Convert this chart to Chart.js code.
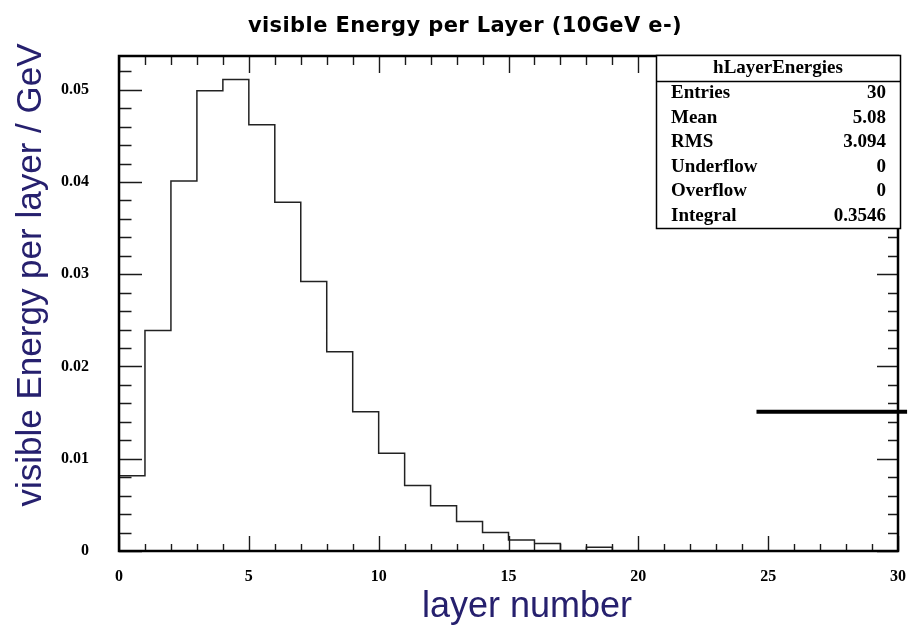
<!DOCTYPE html>
<html>
<head>
<meta charset="utf-8">
<script src="https://cdn.jsdelivr.net/npm/chart.js@4/dist/chart.umd.min.js"></script>
<style>
  html, body { margin: 0; padding: 0; background: #fff; }
</style>
</head>
<body>
<canvas id="c" width="908" height="628"></canvas>
<script>
// Layer index (bin lower edges) and the visible energy deposited in each layer [GeV]
const layers = [0, 1, 2, 3, 4, 5, 6, 7, 8, 9, 10, 11, 12, 13, 14, 15, 16, 17, 18, 19,
                20, 21, 22, 23, 24, 25, 26, 27, 28, 29];
const layerEnergy = [0.00815, 0.0239, 0.0401, 0.0499, 0.0511, 0.0462, 0.0378, 0.0292, 0.0216, 0.0151,
                     0.0106, 0.0071, 0.0049, 0.0032, 0.0020, 0.0012, 0.0008, 0.0, 0.0004, 0.0,
                     0.0, 0.0, 0.0, 0.0, 0.0, 0.0, 0.0, 0.0, 0.0, 0.0];

// Axis tick values and labels
const xTickValues = [0, 5, 10, 15, 20, 25, 30];
const xTickLabels = ['0', '5', '10', '15', '20', '25', '30'];
const yTickValues = [0, 0.01, 0.02, 0.03, 0.04, 0.05];
const yTickLabels = ['0', '0.01', '0.02', '0.03', '0.04', '0.05'];

// Statistics box contents
const statsTitle = 'hLayerEnergies';
const statNames = ['Entries', 'Mean', 'RMS', 'Underflow', 'Overflow', 'Integral'];
const statValues = ['30', '5.08', '3.094', '0', '0', '0.3546'];

// Horizontal level marker (x range in layer units, y in GeV)
const levelX = [24.55, 30.35];
const levelY = 0.0151;

const chartTitle = 'visible Energy per Layer (10GeV e-)';
const xTitle = 'layer number';
const yTitle = 'visible Energy per layer / GeV';

// Step outline: one point per bin edge, last bin closed at the upper edge
const histPoints = layers.map((l, i) => ({ x: l, y: layerEnergy[i] }));
histPoints.push({ x: layers[layers.length - 1] + 1, y: layerEnergy[layerEnergy.length - 1] });
const levelPoints = levelX.map(x => ({ x: x, y: levelY }));

const yMax = 1.05 * Math.max(...layerEnergy);
const titleColor = '#26206e';
const tickFont = { family: '"Liberation Serif", "Times New Roman", serif', size: 16, weight: 'bold' };

// Frame with inward ticks on all four sides (ROOT style)
const framePlugin = {
  id: 'frame',
  afterDatasetsDraw(chart) {
    const { ctx, chartArea: a, scales: { x, y } } = chart;
    ctx.save();
    ctx.strokeStyle = '#1a1a1a';
    ctx.lineWidth = 1.4;
    ctx.beginPath();
    for (let v = x.min; v <= x.max + 1e-9; v += 1) {
      const px = Math.round(x.getPixelForValue(v)) + 0.5;
      const major = v % 5 === 0;
      ctx.moveTo(px, a.bottom); ctx.lineTo(px, a.bottom - (major ? 15 : 7));
      ctx.moveTo(px, a.top); ctx.lineTo(px, a.top + (major ? 17 : 9));
    }
    const yStep = (yTickValues[1] - yTickValues[0]) / 5;
    for (let k = 0; k * yStep <= y.max; k++) {
      const py = Math.round(y.getPixelForValue(k * yStep)) + 0.5;
      const major = k % 5 === 0;
      ctx.moveTo(a.left, py); ctx.lineTo(a.left + (major ? 23 : 12.5), py);
      ctx.moveTo(a.right, py); ctx.lineTo(a.right - (major ? 21 : 10), py);
    }
    ctx.stroke();
    ctx.strokeStyle = '#000';
    ctx.lineWidth = 2.5;
    ctx.strokeRect(a.left, a.top, a.right - a.left, a.bottom - a.top);
    ctx.restore();
  }
};

// Titles and statistics box
const annotationPlugin = {
  id: 'annotations',
  afterDraw(chart) {
    const ctx = chart.ctx;
    ctx.save();

    // main title
    ctx.fillStyle = '#000';
    ctx.font = 'bold 21px "DejaVu Sans", sans-serif';
    ctx.letterSpacing = '0.4px';
    ctx.textAlign = 'center';
    ctx.textBaseline = 'alphabetic';
    ctx.fillText(chartTitle, 465, 32);
    ctx.letterSpacing = '0px';

    // axis titles
    ctx.fillStyle = titleColor;
    ctx.font = '36px "Liberation Sans", Arial, sans-serif';
    ctx.fillText(xTitle, 527, 617);
    ctx.save();
    ctx.translate(41, 275);
    ctx.rotate(-Math.PI / 2);
    ctx.font = '35px "Liberation Sans", Arial, sans-serif';
    ctx.fillText(yTitle, 0, 0);
    ctx.restore();

    // statistics box
    const bx = 656, by = 55, bw = 244, bh = 173, hh = 26;
    ctx.fillStyle = '#fff';
    ctx.fillRect(bx, by, bw, bh);
    ctx.strokeStyle = '#000';
    ctx.lineWidth = 1.5;
    ctx.strokeRect(bx + 0.5, by + 0.5, bw, bh);
    ctx.beginPath();
    ctx.moveTo(bx, by + hh + 0.5); ctx.lineTo(bx + bw, by + hh + 0.5);
    ctx.stroke();
    ctx.fillStyle = '#000';
    ctx.font = 'bold 19px "Liberation Serif", "Times New Roman", serif';
    ctx.textBaseline = 'middle';
    ctx.textAlign = 'center';
    ctx.fillText(statsTitle, bx + bw / 2, by + 13);
    statNames.forEach((name, i) => {
      const ry = 93.5 + i * 24.5;
      ctx.textAlign = 'left';
      ctx.fillText(name, bx + 15, ry);
      ctx.textAlign = 'right';
      ctx.fillText(statValues[i], bx + bw - 14, ry);
    });
    ctx.restore();
  }
};

new Chart(document.getElementById('c'), {
  type: 'line',
  data: {
    datasets: [
      {
        data: histPoints,
        stepped: true,
        borderColor: '#222',
        borderWidth: 1.5,
        pointRadius: 0,
        fill: false,
        tension: 0
      },
      {
        data: levelPoints,
        borderColor: '#000',
        borderWidth: 4,
        pointRadius: 0,
        fill: false,
        clip: false
      }
    ]
  },
  options: {
    responsive: false,
    animation: false,
    events: [],
    layout: { padding: { left: 0, right: 10, top: 56, bottom: 0 } },
    plugins: { legend: { display: false }, title: { display: false }, tooltip: { enabled: false } },
    scales: {
      x: {
        type: 'linear',
        min: 0,
        max: 30,
        grid: { display: false, drawTicks: false },
        border: { display: false },
        afterBuildTicks: s => { s.ticks = xTickValues.map(v => ({ value: v })); },
        afterFit: s => { s.height = 77; s.paddingLeft = 0; s.paddingRight = 0; },
        ticks: {
          padding: 16,
          maxRotation: 0,
          autoSkip: false,
          color: '#000',
          font: tickFont,
          callback: (v, i) => xTickLabels[i]
        }
      },
      y: {
        type: 'linear',
        min: 0,
        max: yMax,
        grid: { display: false, drawTicks: false },
        border: { display: false },
        afterBuildTicks: s => { s.ticks = yTickValues.map(v => ({ value: v })); },
        afterFit: s => { s.width = 119; s.paddingTop = 0; s.paddingBottom = 0; },
        ticks: {
          padding: 30,
          autoSkip: false,
          color: '#000',
          font: tickFont,
          callback: (v, i) => yTickLabels[i]
        }
      }
    }
  },
  plugins: [framePlugin, annotationPlugin]
});
</script>
</body>
</html>
